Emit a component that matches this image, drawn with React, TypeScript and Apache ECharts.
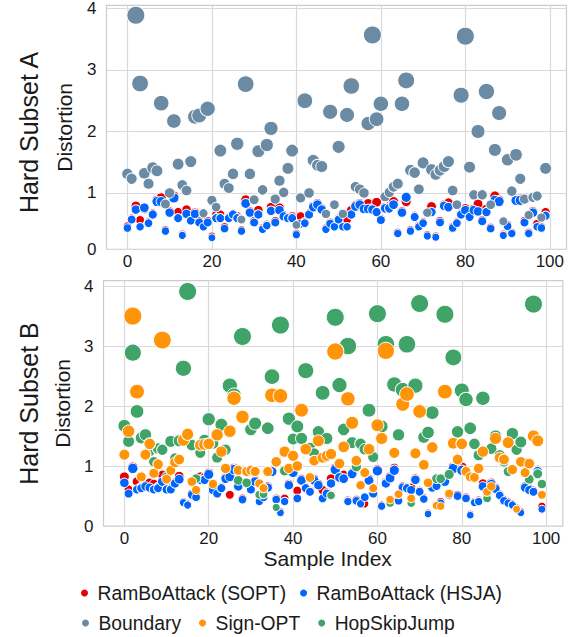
import React, { useEffect, useRef } from "react";
import * as echarts from "echarts";

const SAMPLE_INDEX: number[] = Array.from({ length: 100 }, (_, i) => i);

// Hard Subset A
const SOPT_A = [0.46,0.59,0.79,0.56,0.74,0.53,0.67,0.88,0.92,0.40,
0.70,0.95,0.69,0.33,0.73,0.57,0.68,0.55,0.47,0.55,
0.30,0.64,0.65,0.45,0.61,0.66,0.62,0.40,0.89,0.70,
0.55,0.72,0.43,0.49,0.77,0.55,0.76,0.64,0.61,0.62,
0.34,0.62,0.53,0.67,0.79,0.83,0.75,0.43,0.52,0.47,
0.59,0.47,0.57,0.72,0.80,0.83,0.76,0.83,0.75,0.85,
0.58,0.77,0.78,0.86,0.36,0.70,0.86,0.40,0.63,0.47,
0.53,0.32,0.78,0.30,0.55,0.81,0.84,0.45,0.53,0.67,
0.75,0.63,0.74,0.82,0.56,0.74,0.44,0.95,0.88,0.33,
0.48,0.36,0.90,0.90,0.55,0.36,0.70,0.50,0.45,0.69];

const HSJA_A = [0.43,0.57,0.73,0.45,0.76,0.51,0.65,0.86,0.86,0.38,
0.68,0.92,0.59,0.31,0.66,0.55,0.66,0.52,0.45,0.52,
0.27,0.59,0.59,0.42,0.59,0.65,0.59,0.38,0.83,0.68,
0.52,0.65,0.41,0.47,0.71,0.52,0.72,0.62,0.59,0.59,
0.32,0.50,0.51,0.65,0.77,0.81,0.73,0.41,0.50,0.45,
0.57,0.45,0.45,0.65,0.78,0.81,0.74,0.74,0.73,0.69,
0.56,0.75,0.75,0.81,0.34,0.68,0.93,0.38,0.61,0.45,
0.51,0.30,0.69,0.28,0.52,0.79,0.77,0.43,0.51,0.65,
0.72,0.61,0.72,0.70,0.54,0.69,0.42,0.88,0.86,0.31,
0.46,0.34,0.88,0.88,0.52,0.34,0.68,0.45,0.43,0.63];

const BOUNDARY_A = [1.31,1.23,3.89,2.78,1.32,1.15,1.41,1.36,2.46,0.82,
1.00,2.17,1.47,1.13,1.04,1.51,2.24,2.26,0.67,2.37,
0.88,0.77,1.69,1.15,1.08,1.31,1.80,0.57,2.77,1.31,
0.89,1.68,1.05,1.78,2.05,0.90,1.20,1.01,1.40,1.69,
0.48,0.92,2.50,1.00,1.53,1.45,1.43,0.66,2.32,0.81,
1.75,0.66,2.27,2.74,1.10,1.06,1.00,2.13,3.57,2.20,
2.45,0.94,1.01,1.10,1.15,2.45,2.83,1.37,1.33,1.06,
1.49,0.68,1.38,1.30,1.37,1.43,1.51,1.04,0.81,2.59,
3.55,1.42,0.97,2.00,0.97,2.65,0.81,1.70,2.30,0.54,
1.54,1.03,1.62,1.23,0.90,0.64,0.93,0.95,0.60,1.40];

// Hard Subset B
const SOPT_B = [0.82,0.61,0.98,0.74,0.65,0.68,0.72,0.70,0.65,0.85,
0.67,0.63,0.73,0.83,0.41,0.37,0.54,0.50,0.82,0.81,
0.88,0.62,0.56,0.65,0.81,0.52,0.96,0.68,0.46,0.73,
0.63,0.76,0.43,0.50,0.66,0.93,0.46,0.24,0.46,0.70,
0.91,0.59,0.78,0.65,0.59,0.78,0.70,0.60,0.56,0.79,
0.96,0.83,0.85,0.43,0.89,0.44,0.39,0.37,0.78,0.56,
0.94,0.35,0.73,0.82,0.96,0.44,0.66,0.65,0.64,0.79,
0.59,0.47,0.22,0.66,0.69,0.41,0.76,0.54,0.98,0.52,
0.98,0.48,0.20,0.41,0.43,0.71,0.56,0.72,0.64,0.53,
0.44,0.40,0.37,0.30,0.24,0.66,0.62,0.59,0.93,0.33];

const HSJA_B = [0.72,0.54,0.96,0.61,0.63,0.66,0.64,0.61,0.63,0.74,
0.61,0.61,0.71,0.78,0.39,0.35,0.52,0.48,0.77,0.77,
0.86,0.60,0.54,0.63,0.79,0.82,0.94,0.66,0.44,0.71,
0.61,0.74,0.41,0.48,0.64,0.91,0.44,0.22,0.41,0.68,
0.89,0.46,0.76,0.63,0.57,0.76,0.68,0.46,0.54,0.71,
0.94,0.81,0.79,0.41,0.87,0.42,0.37,0.48,0.76,0.54,
0.92,0.33,0.71,0.80,0.93,0.42,0.64,0.63,0.60,0.77,
0.57,0.45,0.20,0.64,0.67,0.38,0.74,0.52,0.96,0.50,
0.93,0.46,0.18,0.39,0.41,0.66,0.54,0.70,0.62,0.51,
0.42,0.38,0.35,0.28,0.22,0.64,0.60,0.57,0.91,0.28];

const SIGNOPT_B = [1.19,1.58,3.50,2.24,0.82,1.19,1.37,0.88,1.03,3.10,
0.78,0.93,1.06,1.11,1.43,1.53,0.74,0.60,1.35,1.36,
1.37,0.70,1.52,1.24,0.96,1.58,2.13,0.93,1.82,0.91,
0.93,0.91,0.71,0.63,0.91,2.18,1.07,2.17,1.24,0.96,
1.17,1.00,1.93,1.28,0.81,1.09,1.42,1.14,1.17,1.20,
2.91,1.04,1.32,2.12,1.72,1.09,0.68,0.89,1.28,0.63,
1.68,1.46,2.92,0.44,1.22,0.53,2.03,2.20,0.46,1.21,
1.91,1.02,0.72,1.31,0.34,0.33,2.24,0.54,1.38,1.11,
1.37,0.91,0.82,0.81,0.96,1.24,0.57,0.66,1.46,1.14,
1.11,1.39,0.94,0.28,1.07,0.89,1.04,1.50,1.42,0.52];

const HSJ_B = [1.67,1.41,2.89,1.91,1.47,1.52,1.25,1.07,1.29,1.27,
0.82,1.41,1.13,1.42,2.63,3.91,1.35,0.79,1.22,1.43,
1.78,1.38,1.14,1.69,1.27,2.34,2.18,0.76,3.16,0.72,
1.61,1.71,0.52,0.53,1.63,2.49,0.31,3.35,0.92,1.79,
1.45,1.66,1.46,2.59,1.30,1.21,1.57,2.22,1.46,0.51,
3.48,2.35,1.61,3.00,1.39,0.99,1.37,1.28,1.93,1.15,
3.54,1.66,3.03,0.38,2.36,1.52,2.27,3.03,0.38,2.34,
3.71,1.48,1.56,1.89,0.79,0.79,3.53,0.86,2.81,1.57,
2.26,2.11,1.63,1.37,1.18,2.13,0.46,1.29,1.50,1.18,
1.07,0.91,1.54,1.27,1.40,1.05,0.78,3.70,0.87,0.70];

const X_TICKS = [0, 20, 40, 60, 80, 100];
const Y_TICKS_A = [0.084, 1, 2, 3, 4];
const Y_TICKS_B = [0, 1, 2, 3, 4];

const C_SOPT = "#e50000";
const C_HSJA = "#0165fc";
const C_BOUND = "#6b8ba4";
const C_SIGN = "#ff9408";
const C_HSJ = "#40a368";

const FONT = "'Liberation Sans', Arial, sans-serif";
const TXT = "#1a1a1a";
const GRIDC = "#d9d9d9";

const pts = (arr: number[]) => arr.map((v, i) => [SAMPLE_INDEX[i], v]);

function scatter(name: string, arr: number[], color: string, idx: number) {
  return {
    type: "scatter",
    name,
    xAxisIndex: idx,
    yAxisIndex: idx,
    data: pts(arr),
    symbolSize: (d: number[]) => Math.min(18, 7 + 3.5 * d[1]),
    itemStyle: { color, borderColor: "#ffffff", borderWidth: 1, opacity: 1 },
    emphasis: { disabled: true },
  };
}

export default function App() {
  const ref = useRef<HTMLDivElement>(null);
  useEffect(() => {
    if (!ref.current) return;
    const chart = echarts.init(ref.current, undefined, { renderer: "svg" });
    const xAxisBase = (idx: number, withName: boolean) => ({
      type: "value",
      gridIndex: idx,
      min: -4.95,
      max: 103.95,
      axisLine: { show: false },
      axisTick: { show: false, customValues: X_TICKS },
      axisLabel: {
        customValues: X_TICKS,
        fontSize: 17,
        color: TXT,
        fontFamily: FONT,
        margin: 4,
      },
      splitLine: { show: true, lineStyle: { color: GRIDC, width: 1.2 } },
      name: withName ? "Sample Index" : "",
      nameLocation: "middle",
      nameGap: 22,
      nameTextStyle: { fontSize: 21, color: TXT, fontFamily: FONT, padding: [0, 11, 0, 0] },
    });
    const yAxisBase = (idx: number, min: number, max: number, ticks: number[], gap: number) => ({
      type: "value",
      gridIndex: idx,
      min,
      max,
      axisLine: { show: false },
      axisTick: { show: false, customValues: ticks },
      axisLabel: {
        customValues: ticks,
        fontSize: 17,
        color: TXT,
        fontFamily: FONT,
        margin: 10,
        formatter: (v: number) => (v < 0.5 ? "0" : String(Math.round(v))),
      },
      splitLine: { show: true, lineStyle: { color: GRIDC, width: 1.2 } },
      name: "Distortion",
      nameLocation: "middle",
      nameGap: gap,
      nameTextStyle: { fontSize: 21, color: TXT, fontFamily: FONT },
    });
    const legendText = { fontSize: 19.3, color: TXT, fontFamily: FONT, lineHeight: 22 };
    chart.setOption({
      animation: false,
      backgroundColor: "#ffffff",
      textStyle: { fontFamily: FONT },
      grid: [
        { left: 106.5, right: 7.5, top: 4, height: 245.3, show: true, borderColor: "#cccccc", borderWidth: 1.2, containLabel: false },
        { left: 103.5, right: 11.2, top: 280.7, height: 245.3, show: true, borderColor: "#cccccc", borderWidth: 1.2, containLabel: false },
      ],
      xAxis: [xAxisBase(0, false), xAxisBase(1, true)],
      yAxis: [
        yAxisBase(0, 0.084, 4.05, Y_TICKS_A, 32),
        yAxisBase(1, 0, 4.09, Y_TICKS_B, 30),
      ],
      legend: [
        {
          data: ["RamBoAttack (SOPT)", "RamBoAttack (HSJA)"],
          left: 79,
          top: 582,
          padding: 0,
          itemWidth: 16,
          itemHeight: 9,
          itemGap: 12,
          icon: "circle",
          selectedMode: false,
          textStyle: legendText,
        },
        {
          data: ["Boundary", "Sign-OPT", "HopSkipJump"],
          left: 80,
          top: 612,
          padding: 0,
          itemWidth: 16,
          itemHeight: 9,
          itemGap: 16,
          icon: "circle",
          selectedMode: false,
          textStyle: legendText,
        },
      ],
      graphic: [
        {
          type: "text",
          x: 28.7,
          y: 132.5,
          rotation: Math.PI / 2,
          style: { text: "Hard Subset A", fontSize: 25, fill: TXT, fontFamily: FONT, align: "center", verticalAlign: "middle" },
        },
        {
          type: "text",
          x: 28.7,
          y: 403.5,
          rotation: Math.PI / 2,
          style: { text: "Hard Subset B", fontSize: 25, fill: TXT, fontFamily: FONT, align: "center", verticalAlign: "middle" },
        },
      ],
      series: [
        scatter("RamBoAttack (SOPT)", SOPT_A, C_SOPT, 0),
        scatter("RamBoAttack (HSJA)", HSJA_A, C_HSJA, 0),
        scatter("Boundary", BOUNDARY_A, C_BOUND, 0),
        scatter("RamBoAttack (SOPT)", SOPT_B, C_SOPT, 1),
        scatter("RamBoAttack (HSJA)", HSJA_B, C_HSJA, 1),
        scatter("HopSkipJump", HSJ_B, C_HSJ, 1),
        scatter("Sign-OPT", SIGNOPT_B, C_SIGN, 1),
      ],
    });
    return () => chart.dispose();
  }, []);
  return (
    <div
      ref={ref}
      style={{ position: "fixed", left: 0, top: 0, width: 574, height: 637, background: "#fff" }}
    />
  );
}
